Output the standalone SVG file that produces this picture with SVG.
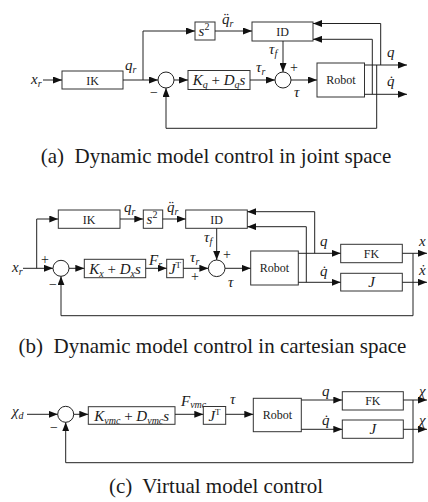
<svg xmlns="http://www.w3.org/2000/svg" width="428" height="502" viewBox="0 0 428 502">
<defs>
<marker id="ah" markerUnits="userSpaceOnUse" markerWidth="9" markerHeight="7" viewBox="0 0 9 7" refX="9" refY="3.5" orient="auto"><path d="M0,0 L9,3.5 L0,7 z" fill="#111"/></marker>
<style>
.bx{fill:#fff;stroke:#333;stroke-width:1}
.sum{fill:#fff;stroke:#222;stroke-width:1}
.ln{fill:none;stroke:#222;stroke-width:1}
.ar{fill:none;stroke:#222;stroke-width:1;marker-end:url(#ah)}
text{font-family:"Liberation Serif","Times New Roman",serif;fill:#1a1a1a}
.t{font-size:12px}
.m{font-size:15px;font-style:italic}
.s{font-size:10px;font-style:italic}
.u{font-style:normal}
.sg{font-size:14px}
.cap{font-size:21px}
</style>
</defs>

<!-- ===== (a) ===== -->
<g id="a-labels">
<text class="m" x="31" y="84">x<tspan class="s" dy="3">r</tspan></text>
<text class="m" x="125" y="70">q<tspan class="s" dy="3">r</tspan></text>
<text class="m" x="222" y="24">q̈<tspan class="s" dy="3">r</tspan></text>
<text class="m" x="256" y="72">τ<tspan class="s" dy="3">r</tspan></text>
<text class="m" x="269" y="54">τ<tspan class="s" dy="3">f</tspan></text>
<text class="sg" x="290" y="72">+</text>
<text class="m" x="294" y="97">τ</text>
<text class="sg" x="150" y="97">−</text>
<text class="m" x="387" y="57">q</text>
<text class="m" x="387" y="86">q̇</text>
</g>
<g id="a-IK"><rect class="bx" x="62" y="71" width="61" height="18"/><text class="t" x="92.5" y="84.5" text-anchor="middle">IK</text></g>
<g id="a-s2"><rect class="bx" x="195" y="22" width="20" height="18"/><text class="m" x="204" y="36" text-anchor="middle">s<tspan class="u" font-size="10" dy="-6">2</tspan></text></g>
<g id="a-ID"><rect class="bx" x="252" y="22" width="61" height="19"/><text class="t" x="282.5" y="35.5" text-anchor="middle">ID</text></g>
<g id="a-sum1"><circle class="sum" cx="166" cy="80" r="8"/></g>
<g id="a-K"><rect class="bx" x="188" y="70.5" width="62" height="19"/><text class="m" x="219" y="84.5" text-anchor="middle">K<tspan class="s" dy="3">q</tspan><tspan class="u" dy="-3"> + </tspan>D<tspan class="s" dy="3">q</tspan><tspan dy="-3">s</tspan></text></g>
<g id="a-sum2"><circle class="sum" cx="283" cy="80" r="8"/></g>
<g id="a-robot"><rect class="bx" x="317" y="63" width="47.5" height="34"/><text class="t" x="341" y="84" text-anchor="middle">Robot</text></g>
<g id="a-connectors">
<path class="ar" d="M43,80 H62"/>
<path class="ar" d="M123,80 H158"/>
<path class="ar" d="M143,80 V31 H195"/>
<path class="ar" d="M215,31 H252"/>
<path class="ar" d="M174,80 H188"/>
<path class="ar" d="M250,80 H275"/>
<path class="ar" d="M283,41 V72"/>
<path class="ar" d="M291,80 H317"/>
<path class="ar" d="M364.5,65 H407"/>
<path class="ar" d="M364.5,94.3 H407"/>
<path class="ar" d="M380.7,65 V23.5 H313"/>
<path class="ar" d="M372.3,94.3 V39.3 H313"/>
<path class="ar" d="M376.7,65 V128.3 H166 V88"/>
</g>
<text class="cap" x="216" y="163" text-anchor="middle">(a)&#160; Dynamic model control in joint space</text>

<!-- ===== (b) ===== -->
<g id="b-labels">
<text class="m" x="12" y="272">x<tspan class="s" dy="3">r</tspan></text>
<text class="sg" x="41" y="264">+</text>
<text class="sg" x="49" y="289">−</text>
<text class="m" x="124" y="211.5">q<tspan class="s" dy="3">r</tspan></text>
<text class="m" x="167" y="211.5">q̈<tspan class="s" dy="3">r</tspan></text>
<text class="m" x="204" y="242">τ<tspan class="s" dy="3">f</tspan></text>
<text class="sg" x="223" y="259">+</text>
<text class="m" x="149" y="265">F<tspan class="s" dy="3">r</tspan></text>
<text class="m" x="190" y="262">τ<tspan class="s" dy="3">r</tspan></text>
<text class="sg" x="191" y="281">+</text>
<text class="m" x="228" y="287">τ</text>
<text class="m" x="320" y="246">q</text>
<text class="m" x="320" y="276">q̇</text>
<text class="m" x="419" y="245.5">x</text>
<text class="m" x="419" y="275">ẋ</text>
</g>
<g id="b-IK"><rect class="bx" x="58.3" y="210" width="61.7" height="18.3"/><text class="t" x="89.2" y="223.5" text-anchor="middle">IK</text></g>
<g id="b-s2"><rect class="bx" x="143.3" y="210" width="19.4" height="18.3"/><text class="m" x="152" y="224" text-anchor="middle">s<tspan class="u" font-size="10" dy="-6">2</tspan></text></g>
<g id="b-ID"><rect class="bx" x="185.7" y="210" width="61.6" height="18.3"/><text class="t" x="216.5" y="223.5" text-anchor="middle">ID</text></g>
<g id="b-sum1"><circle class="sum" cx="61" cy="268.3" r="8"/></g>
<g id="b-K"><rect class="bx" x="84.3" y="259.3" width="61.4" height="18.4"/><text class="m" x="115" y="273.5" text-anchor="middle">K<tspan class="s" dy="3">x</tspan><tspan class="u" dy="-3"> + </tspan>D<tspan class="s" dy="3">x</tspan><tspan dy="-3">s</tspan></text></g>
<g id="b-JT"><rect class="bx" x="166.7" y="259.3" width="16.6" height="18.4"/><text class="m" x="175" y="273.5" text-anchor="middle">J<tspan class="u" font-size="9" dy="-6">T</tspan></text></g>
<g id="b-sum2"><circle class="sum" cx="216.7" cy="268.3" r="8.3"/></g>
<g id="b-robot"><rect class="bx" x="250.7" y="251" width="47.6" height="34"/><text class="t" x="274.5" y="272" text-anchor="middle">Robot</text></g>
<g id="b-FK"><rect class="bx" x="340.7" y="244.3" width="61.6" height="18.4"/><text class="t" x="371.5" y="257.5" text-anchor="middle">FK</text></g>
<g id="b-J"><rect class="bx" x="340.7" y="273.3" width="61.6" height="17.7"/><text class="m" x="371.5" y="287" text-anchor="middle">J</text></g>
<g id="b-connectors">
<path class="ar" d="M23,268.3 H53"/>
<path class="ar" d="M36.7,268.3 V219 H58.3"/>
<path class="ar" d="M120,219 H143.3"/>
<path class="ar" d="M162.7,219 H185.7"/>
<path class="ar" d="M69,268.3 H84.3"/>
<path class="ar" d="M145.7,268.3 H166.7"/>
<path class="ar" d="M183.3,268.3 H208.4"/>
<path class="ar" d="M216.7,228.3 V260"/>
<path class="ar" d="M225,268.3 H250.7"/>
<path class="ar" d="M298.3,253.3 H340.7"/>
<path class="ar" d="M298.3,282.3 H340.7"/>
<path class="ar" d="M314.7,253.3 V211.7 H247.3"/>
<path class="ar" d="M306.3,282.3 V226.7 H247.3"/>
<path class="ar" d="M402.3,253.3 H427"/>
<path class="ar" d="M402.3,282.3 H427"/>
<path class="ar" d="M413,253.3 V315.7 H61 V276.3"/>
</g>
<text class="cap" x="212.5" y="353" text-anchor="middle">(b)&#160; Dynamic model control in cartesian space</text>

<!-- ===== (c) ===== -->
<g id="c-labels">
<text class="m" x="12" y="416">χ<tspan class="s" dy="3">d</tspan></text>
<text class="sg" x="50" y="432">−</text>
<text class="m" x="181" y="406">F<tspan class="s" font-size="8" dy="2">vmc</tspan></text>
<text class="m" x="230" y="404">τ</text>
<text class="m" x="322" y="396">q</text>
<text class="m" x="322" y="425">q̇</text>
<text class="m" x="419" y="396">χ</text>
<text class="m" x="419" y="425">χ̇</text>
</g>
<g id="c-sum"><circle class="sum" cx="65.7" cy="414.3" r="8"/></g>
<g id="c-K"><rect class="bx" x="88.3" y="406.7" width="86.7" height="17.6"/><text class="m" x="131.7" y="420.5" text-anchor="middle">K<tspan class="s" font-size="8" dy="3">vmc</tspan><tspan class="u" dy="-3"> + </tspan>D<tspan class="s" font-size="8" dy="3">vmc</tspan><tspan dy="-3">s</tspan></text></g>
<g id="c-JT"><rect class="bx" x="203.3" y="406.5" width="22.4" height="17.8"/><text class="m" x="214.5" y="420.5" text-anchor="middle">J<tspan class="u" font-size="9" dy="-6">T</tspan></text></g>
<g id="c-robot"><rect class="bx" x="253.3" y="398.3" width="48" height="33.4"/><text class="t" x="277.3" y="419" text-anchor="middle">Robot</text></g>
<g id="c-FK"><rect class="bx" x="342.3" y="391.7" width="61" height="18.3"/><text class="t" x="372.8" y="405" text-anchor="middle">FK</text></g>
<g id="c-J"><rect class="bx" x="342.3" y="420" width="61" height="18.3"/><text class="m" x="372.8" y="434" text-anchor="middle">J</text></g>
<g id="c-connectors">
<path class="ar" d="M27,414.3 H57.7"/>
<path class="ar" d="M73.7,414.3 H88.3"/>
<path class="ar" d="M175,414.3 H203.3"/>
<path class="ar" d="M225.7,414.3 H253.3"/>
<path class="ar" d="M301.3,400 H342.3"/>
<path class="ar" d="M301.3,429.3 H342.3"/>
<path class="ar" d="M403.3,400 H427"/>
<path class="ar" d="M403.3,429.3 H427"/>
<path class="ar" d="M413,400 V462.7 H65.7 V422.3"/>
</g>
<text class="cap" x="216" y="493" text-anchor="middle">(c)&#160; Virtual model control</text>
</svg>
